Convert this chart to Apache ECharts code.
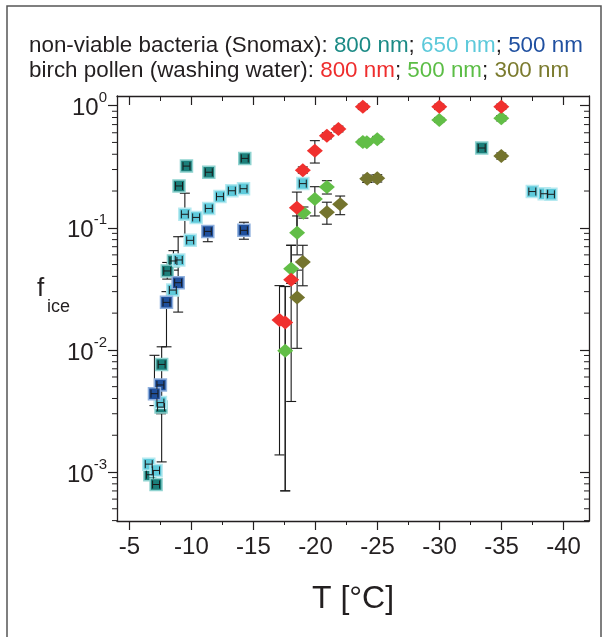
<!DOCTYPE html>
<html><head><meta charset="utf-8">
<script src="https://cdn.jsdelivr.net/npm/echarts@6/dist/echarts.min.js"></script>
<style>html,body{margin:0;padding:0;background:#fff}#c{width:605px;height:637px}</style>
</head><body><div id="c"></div>
<script>
// ---------- data (T in °C, f_ice, lower/upper error) ----------
// non-viable bacteria (Snomax) 800 nm
const snx800T  = [-9.6, -9.0, -11.4, -14.3, -8.55, -8.05, -7.6, -7.55, -6.65, -7.15, -33.4];
const snx800F  = [0.32, 0.22, 0.285, 0.37, 0.0535, 0.0443, 0.0076, 0.0034, 0.00095, 0.00079, 0.45];
const snx800Lo = [0.31, 0.21, 0.275, 0.355, 0.045, 0.038, 0.00121, 0.0030, 0.0009, 0.00075, 0.43];
const snx800Hi = [0.33, 0.23, 0.295, 0.385, 0.065, 0.052, 0.0106, 0.0039, 0.001, 0.00083, 0.47];
// Snomax 650 nm
const snx650T  = [-9.47, -10.38, -9.9, -11.4, -12.3, -13.26, -14.2, -8.98, -8.5, -7.5, -6.56, -7.15, -18.98, -37.48, -38.44, -38.98];
const snx650F  = [0.129, 0.1216, 0.0789, 0.144, 0.18, 0.201, 0.209, 0.0545, 0.0309, 0.0037, 0.00116, 0.00103, 0.23, 0.198, 0.19, 0.188];
const snx650Lo = [0.085, 0.117, 0.075, 0.135, 0.172, 0.192, 0.195, 0.05, 0.029, 0.0035, 0.0011, 0.00098, 0.22, 0.19, 0.182, 0.18];
const snx650Hi = [0.192, 0.126, 0.083, 0.153, 0.188, 0.21, 0.228, 0.06, 0.033, 0.0039, 0.00122, 0.00108, 0.24, 0.206, 0.198, 0.196];
// Snomax 500 nm
const snx500T  = [-11.32, -14.23, -8.93, -7.99, -7.5, -7.02];
const snx500F  = [0.0934, 0.0953, 0.0355, 0.0245, 0.00516, 0.00438];
const snx500Lo = [0.0769, 0.0806, 0.0204, 0.0106, 0.0048, 0.0035];
const snx500Hi = [0.10, 0.111, 0.0845, 0.03, 0.0055, 0.00903];
// birch pollen (washing water) 800 nm
const bp800T  = [-23.82, -29.98, -34.98, -21.85, -20.92, -19.95, -18.98, -18.5, -18.04, -17.1, -17.56];
const bp800F  = [0.98, 0.98, 0.98, 0.644, 0.568, 0.428, 0.296, 0.146, 0.0376, 0.0176, 0.0168];
const bp800Lo = [0.93, 0.93, 0.93, 0.61, 0.535, 0.339, 0.28, 0.09, 0.00378, 0.00138, 0.000702];
const bp800Hi = [1.03, 1.03, 1.03, 0.68, 0.60, 0.517, 0.315, 0.196, 0.0719, 0.0336, 0.0331];
// birch pollen 500 nm
const bp500T  = [-23.82, -24.14, -24.98, -29.98, -34.98, -20.92, -19.95, -19.03, -18.52, -18.04, -17.56];
const bp500F  = [0.504, 0.501, 0.531, 0.763, 0.788, 0.216, 0.172, 0.133, 0.0912, 0.0462, 0.00986];
const bp500Lo = [0.48, 0.48, 0.505, 0.73, 0.75, 0.189, 0.125, 0.12, 0.06, 0.035, 0.0007];
const bp500Hi = [0.53, 0.525, 0.56, 0.80, 0.83, 0.243, 0.217, 0.148, 0.125, 0.0719, 0.033];
// birch pollen 300 nm
const bp300T  = [-24.17, -24.98, -20.92, -21.99, -18.98, -18.52, -34.98];
const bp300F  = [0.252, 0.254, 0.134, 0.156, 0.0525, 0.0268, 0.387];
const bp300Lo = [0.235, 0.237, 0.107, 0.128, 0.0335, 0.0103, 0.365];
const bp300Hi = [0.27, 0.272, 0.162, 0.182, 0.0719, 0.045, 0.41];

// ---------- axes ----------
const xTicks = [-5, -10, -15, -20, -25, -30, -35, -40];
const yTicks = [0.001, 0.01, 0.1, 1];
const X_MIN = -42.05, X_MAX = -4.0, Y_MIN = 3.97e-4, Y_MAX = 1.2;
const yMinorTicks = [];
[1e-4, 1e-3, 1e-2, 1e-1].forEach(d => {
  for (let k = 2; k <= 9; k++) {
    const v = +(k * d).toPrecision(3);
    if (v > Y_MIN && v < Y_MAX) yMinorTicks.push(v);
  }
});

const FONT = '"Liberation Sans", Arial, Helvetica, sans-serif';
const INK = '#231f20';

const groups = [
  {T: snx800T, F: snx800F, Lo: snx800Lo, Hi: snx800Hi, symbol: 'rect', size: 12, color: '#1b7f7a', border: '#8fd3d0', sq: true},
  {T: snx650T, F: snx650F, Lo: snx650Lo, Hi: snx650Hi, symbol: 'rect', size: 12, color: '#5ecadb', border: '#b5e9f0', sq: true},
  {T: snx500T, F: snx500F, Lo: snx500Lo, Hi: snx500Hi, symbol: 'rect', size: 12, color: '#1f4f9c', border: '#8fb0de', sq: true},
  {T: bp300T, F: bp300F, Lo: bp300Lo, Hi: bp300Hi, symbol: 'diamond', size: [16, 14], color: '#74742e', border: '#74742e', sq: false},
  {T: bp500T, F: bp500F, Lo: bp500Lo, Hi: bp500Hi, symbol: 'diamond', size: [16, 14], color: '#62be47', border: '#62be47', sq: false},
  {T: bp800T, F: bp800F, Lo: bp800Lo, Hi: bp800Hi, symbol: 'diamond', size: [16, 14], color: '#f0302e', border: '#f0302e', sq: false}
];

const ERR = '#1a1a1a';
function errRender(params, api) {
  const t = api.value(0), lo = api.value(1), hi = api.value(2);
  const a = api.coord([t, lo]), b = api.coord([t, hi]);
  const st = {stroke: ERR, lineWidth: 1.1};
  const cw = 5;
  return {type: 'group', children: [
    {type: 'line', shape: {x1: a[0], y1: a[1], x2: b[0], y2: b[1]}, style: st},
    {type: 'line', shape: {x1: a[0] - cw, y1: a[1], x2: a[0] + cw, y2: a[1]}, style: st},
    {type: 'line', shape: {x1: b[0] - cw, y1: b[1], x2: b[0] + cw, y2: b[1]}, style: st}
  ]};
}
function xErrRender(params, api) {
  const t = api.value(0), f = api.value(1);
  const xe = 0.28;
  const l = api.coord([t - xe, f]), r = api.coord([t + xe, f]);
  const st = {stroke: ERR, lineWidth: 1};
  const h = 4;
  return {type: 'group', children: [
    {type: 'line', shape: {x1: l[0], y1: l[1], x2: r[0], y2: r[1]}, style: st},
    {type: 'line', shape: {x1: l[0], y1: l[1] - h, x2: l[0], y2: l[1] + h}, style: st},
    {type: 'line', shape: {x1: r[0], y1: r[1] - h, x2: r[0], y2: r[1] + h}, style: st}
  ]};
}
function minorRender(params, api) {
  const cs = params.coordSys;
  const y = api.coord([-20, api.value(1)])[1];
  const st = {stroke: INK, lineWidth: 1};
  return {type: 'group', children: [
    {type: 'line', shape: {x1: cs.x - 5, y1: y, x2: cs.x, y2: y}, style: st},
    {type: 'line', shape: {x1: cs.x + cs.width - 5, y1: y, x2: cs.x + cs.width, y2: y}, style: st}
  ]};
}

const series = [];
groups.forEach((g, gi) => {
  series.push({type: 'custom', renderItem: errRender, clip: false, silent: true, z: 2,
    encode: {x: 0, y: [1, 2]},
    data: g.T.map((t, i) => [t, g.Lo[i], g.Hi[i]])});
});
groups.forEach((g, gi) => {
  series.push({type: 'scatter', symbol: g.symbol, symbolSize: g.size, z: 3 + gi * 0.01,
    itemStyle: {color: g.color, borderColor: g.border, borderWidth: g.sq ? 1.5 : 0, opacity: 1},
    data: g.T.map((t, i) => [t, g.F[i]])});
});
groups.forEach(g => {
  if (!g.sq) return;
  series.push({type: 'custom', renderItem: xErrRender, clip: false, silent: true, z: 5,
    encode: {x: 0, y: 1},
    data: g.T.map((t, i) => [t, g.F[i]])});
});
series.push({type: 'custom', renderItem: minorRender, clip: false, silent: true, z: 6,
  encode: {x: 0, y: 1},
  data: yMinorTicks.map(v => [-20, v])});

const LF = 22.4, LH = 24.5;
const richLeg = {};
[['k', INK], ['t', '#1b8a85'], ['c', '#5cc9da'], ['b', '#2050a0'], ['r', '#ee2d2d'], ['g', '#5bbd45'], ['o', '#7b7b2f']]
  .forEach(([k, c]) => { richLeg[k] = {color: c, fontSize: LF, fontFamily: FONT, lineHeight: LH}; });

const axLine = {show: true, lineStyle: {color: INK, width: 1.3}};
const chart = echarts.init(document.getElementById('c'), null, {renderer: 'canvas'});
chart.setOption({
  backgroundColor: '#fff',
  animation: false,
  textStyle: {fontFamily: FONT},
  title: {
    left: 29, top: 34, padding: 0,
    text: '{k|non-viable bacteria (Snomax): }{t|800 nm}{k|; }{c|650 nm}{k|; }{b|500 nm}\n{k|birch pollen (washing water): }{r|800 nm}{k|; }{g|500 nm}{k|; }{o|300 nm}',
    textStyle: {fontFamily: FONT, fontSize: LF, fontWeight: 'normal', lineHeight: LH, rich: richLeg}
  },
  graphic: [
    {type: 'rect', shape: {x: 7, y: 6, width: 594, height: 650}, style: {fill: 'none', stroke: '#555', lineWidth: 1.5}, silent: true, z: 0},
    {type: 'text', x: 37, y: 289, style: {text: 'f', font: '26px ' + FONT, fill: INK, textVerticalAlign: 'middle', verticalAlign: 'middle'}, silent: true},
    {type: 'text', x: 47, y: 307, style: {text: 'ice', font: '18px ' + FONT, fill: INK, textVerticalAlign: 'middle', verticalAlign: 'middle'}, silent: true}
  ],
  grid: {left: 117, right: 16, top: 96, bottom: 116, containLabel: false, outerBoundsMode: 'none'},
  xAxis: [
    {type: 'value', min: X_MIN, max: X_MAX, inverse: true, position: 'bottom', splitNumber: 8,
      axisLine: axLine, splitLine: {show: false},
      axisTick: {show: true, inside: false, length: 9, customValues: xTicks, lineStyle: {color: INK, width: 1.2}},
      minorTick: {show: true, splitNumber: 2, length: 4, lineStyle: {color: INK, width: 1}},
      axisLabel: {customValues: xTicks, fontSize: 24, color: INK, margin: 14, fontFamily: FONT},
      name: 'T [°C]', nameLocation: 'middle', nameGap: 62,
      nameTextStyle: {fontSize: 32, color: INK, fontFamily: FONT}},
    {type: 'value', min: X_MIN, max: X_MAX, inverse: true, position: 'top', splitNumber: 8,
      axisLine: axLine, splitLine: {show: false},
      axisTick: {show: true, inside: true, length: 9, customValues: xTicks, lineStyle: {color: INK, width: 1.2}},
      minorTick: {show: true, splitNumber: 2, length: 5, lineStyle: {color: INK, width: 1}},
      axisLabel: {show: false}}
  ],
  yAxis: [
    {type: 'log', logBase: 10, min: Y_MIN, max: Y_MAX, position: 'left',
      axisLine: axLine, splitLine: {show: false},
      axisTick: {show: true, inside: false, length: 9, customValues: yTicks, lineStyle: {color: INK, width: 1.2}},
      axisLabel: {customValues: yTicks, margin: 10, color: INK, fontFamily: FONT,
        formatter: v => '{a|10}{s|' + Math.round(Math.log10(v)) + '}',
        rich: {
          a: {fontSize: 24, color: INK, fontFamily: FONT, lineHeight: 30, verticalAlign: 'bottom'},
          s: {fontSize: 15, color: INK, fontFamily: FONT, lineHeight: 15, verticalAlign: 'top'}
        }}},
    {type: 'log', logBase: 10, min: Y_MIN, max: Y_MAX, position: 'right',
      axisLine: axLine, splitLine: {show: false},
      axisTick: {show: true, inside: true, length: 9, customValues: yTicks, lineStyle: {color: INK, width: 1.2}},
      axisLabel: {show: false}}
  ],
  series: series
});
</script></body></html>
